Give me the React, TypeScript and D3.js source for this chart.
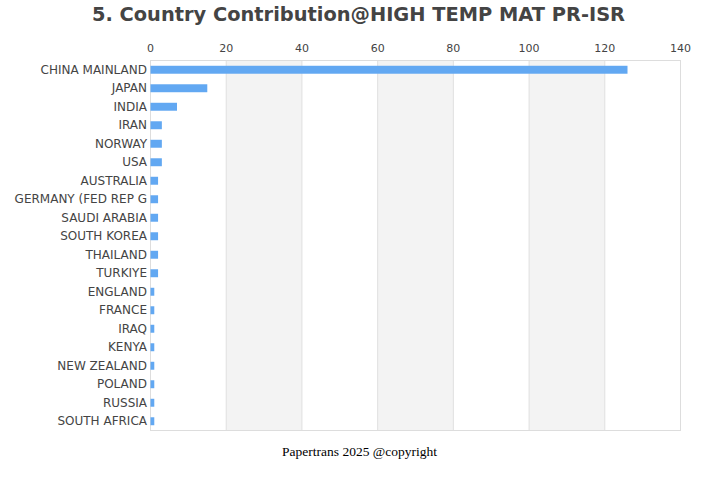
import React from "react";
import * as d3 from "d3";

const categories = [
  "CHINA MAINLAND", "JAPAN", "INDIA", "IRAN", "NORWAY", "USA", "AUSTRALIA",
  "GERMANY (FED REP G", "SAUDI ARABIA", "SOUTH KOREA", "THAILAND", "TURKIYE",
  "ENGLAND", "FRANCE", "IRAQ", "KENYA", "NEW ZEALAND", "POLAND", "RUSSIA", "SOUTH AFRICA",
];
const values = [126, 15, 7, 3, 3, 3, 2, 2, 2, 2, 2, 2, 1, 1, 1, 1, 1, 1, 1, 1];
const xTicks = [0, 20, 40, 60, 80, 100, 120, 140];
const title = "5. Country Contribution@HIGH TEMP MAT PR-ISR";
const footer = "Papertrans 2025 @copyright";

export default function App() {
  const W = 720, H = 480;
  const left = 150.5, right = 680.5, top = 60.5, bottom = 430.5;
  const x = d3.scaleLinear().domain([0, 140]).range([left, right]);
  const y = d3.scaleBand().domain(categories).range([top, bottom]).paddingInner(0.57).paddingOuter(0.285);
  const bands = xTicks.slice(0, -1).map((t, i) => ({ a: t, b: xTicks[i + 1], shade: i % 2 === 1 }));
  return (
    <svg width={W} height={H} style={{ position: "absolute", left: 0, top: 0 }}>
      <rect width={W} height={H} fill="#fff" />
      <text x={358.5} y={21} textAnchor="middle" fontFamily="DejaVu Sans" fontWeight="bold" fontSize={19.4} fill="#444">{title}</text>
      {bands.map((b, i) => b.shade ? (
        <rect key={i} x={x(b.a)} y={top} width={x(b.b) - x(b.a)} height={bottom - top} fill="#f3f3f3" />
      ) : null)}
      {xTicks.map((t) => (
        <line key={t} x1={x(t)} x2={x(t)} y1={top} y2={bottom} stroke="#e0e0e0" strokeWidth={1} />
      ))}
      <rect x={left} y={top} width={right - left} height={bottom - top} fill="none" stroke="#ddd" strokeWidth={1} />
      {xTicks.map((t) => (
        <text key={t} x={x(t)} y={52} textAnchor="middle" fontFamily="DejaVu Sans" fontSize={11} fill="#444">{t}</text>
      ))}
      {categories.map((c, i) => (
        <g key={c}>
          <rect x={x(0)} y={y(c)!} width={x(values[i]) - x(0)} height={y.bandwidth()} fill="#62a8f2" />
          <text x={left - 3.5} y={y(c)! + y.bandwidth() / 2} dy="0.33em" textAnchor="end" fontFamily="DejaVu Sans" fontSize={12} fill="#444">{c}</text>
        </g>
      ))}
      <text x={359.5} y={456} textAnchor="middle" fontFamily="Liberation Serif, serif" fontSize={13.5} fill="#000">{footer}</text>
    </svg>
  );
}
